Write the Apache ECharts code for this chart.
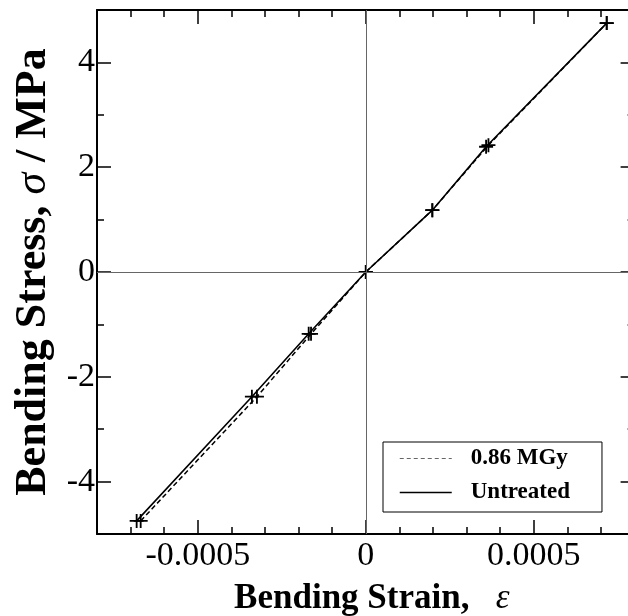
<!DOCTYPE html>
<html>
<head>
<meta charset="utf-8">
<script src="https://cdn.jsdelivr.net/npm/echarts@6/dist/echarts.min.js"></script>
<style>
  html, body { margin: 0; padding: 0; background: #fff; }
  #chart { width: 628px; height: 616px; }
</style>
</head>
<body>
<div id="chart"></div>
<script>
// Bending stress vs. bending strain, untreated and irradiated specimens
const strainUntreated = [-0.000682, -0.000339, -0.000170, 0, 0.000198, 0.000358, 0.000717];
const stressUntreated = [-4.75, -2.38, -1.18, 0, 1.18, 2.39, 4.75];
const strainIrradiated = [-0.000670, -0.000324, -0.000163, 0, 0.000198, 0.000365, 0.000717];
const stressIrradiated = [-4.75, -2.38, -1.18, 0, 1.18, 2.42, 4.75];
const strainTicks = [-0.0005, 0, 0.0005];
const stressTicks = [-4, -2, 0, 2, 4];
const seriesNames = ['0.86 MGy', 'Untreated'];

const serif = '"Liberation Serif", "Times New Roman", serif';
const plusSymbol = 'path://M-1,-0.13H1V0.13H-1Z M-0.13,-1H0.13V1H-0.13Z';

function pairs(xs, ys) { return xs.map((x, i) => [x, ys[i]]); }

function xAxisDef(position, major) {
  return {
    type: 'value', position: position,
    min: -0.0008, max: 0.0008, interval: 0.0001,
    axisLine: { show: !major, onZero: false, lineStyle: { color: '#000', width: 2 } },
    axisTick: major
      ? { show: true, inside: true, length: 14, customValues: strainTicks, lineStyle: { color: '#000', width: 1.5 } }
      : { show: true, inside: true, length: 7, lineStyle: { color: '#000', width: 1.5 } },
    axisLabel: (major && position === 'bottom')
      ? { show: true, customValues: strainTicks, margin: 5, color: '#000', fontFamily: serif, fontSize: 34,
          formatter: v => String(v) }
      : { show: false },
    splitLine: { show: false }
  };
}

function yAxisDef(position, major) {
  return {
    type: 'value', position: position,
    min: -5, max: 5, interval: 1,
    axisLine: { show: !major, onZero: false, lineStyle: { color: '#000', width: 2 } },
    axisTick: major
      ? { show: true, inside: true, length: 14, customValues: stressTicks, lineStyle: { color: '#000', width: 1.5 } }
      : { show: true, inside: true, length: 7, lineStyle: { color: '#000', width: 1.5 } },
    axisLabel: (major && position === 'left')
      ? { show: true, customValues: stressTicks, margin: 2, color: '#000', fontFamily: serif, fontSize: 34,
          formatter: v => String(v) }
      : { show: false },
    splitLine: { show: false }
  };
}

const xAxes = [xAxisDef('bottom', false), xAxisDef('bottom', true), xAxisDef('top', false), xAxisDef('top', true)];
const yAxes = [yAxisDef('left', false), yAxisDef('left', true), yAxisDef('right', false), yAxisDef('right', true)];

xAxes[1].name = '{t|Bending Strain,}   {e|ε}';
xAxes[1].nameLocation = 'middle';
xAxes[1].nameGap = 47;
xAxes[1].nameTextStyle = {
  fontSize: 35, fontFamily: serif, color: '#000', padding: [0, 0, 0, 12],
  rich: {
    t: { fontFamily: serif, fontWeight: 'bold', fontSize: 35, color: '#000' },
    e: { fontFamily: serif, fontStyle: 'italic', fontSize: 35, color: '#000' }
  }
};

yAxes[1].name = '{t|Bending Stress,} {e|σ} {t|/ MPa}';
yAxes[1].nameLocation = 'middle';
yAxes[1].nameGap = 33;
yAxes[1].nameRotate = 90;
yAxes[1].nameTextStyle = {
  fontSize: 44, fontFamily: serif, color: '#000',
  rich: {
    t: { fontFamily: serif, fontWeight: 'bold', fontSize: 44, color: '#000' },
    e: { fontFamily: serif, fontStyle: 'italic', fontSize: 44, color: '#000' }
  }
};

const option = {
  animation: false,
  backgroundColor: '#fff',
  grid: { left: 97, top: 10, width: 537.6, height: 524, containLabel: false, outerBoundsMode: 'none' },
  xAxis: xAxes,
  yAxis: yAxes,
  legend: {
    left: 383, top: 442, orient: 'vertical',
    padding: [5, 32, 8, 16],
    itemGap: 11, itemWidth: 52, itemHeight: 14,
    borderColor: '#000', borderWidth: 1, backgroundColor: '#fff',
    itemStyle: { color: 'rgba(0,0,0,0)', borderWidth: 0 },
    textStyle: { fontFamily: serif, fontWeight: 'bold', fontSize: 23, lineHeight: 22, color: '#000',
                 padding: [0, 0, 0, 14] },
    data: [
      { name: seriesNames[0], lineStyle: { color: '#666', width: 1, type: [4, 3] } },
      { name: seriesNames[1], lineStyle: { color: '#000', width: 1.5, type: 'solid' } }
    ]
  },
  series: [
    {
      name: seriesNames[0], type: 'line', xAxisIndex: 0, yAxisIndex: 0,
      data: pairs(strainIrradiated, stressIrradiated),
      symbol: plusSymbol, symbolSize: 14,
      itemStyle: { color: '#000' },
      lineStyle: { color: '#000', width: 1.5, type: [5, 3] },
      z: 3
    },
    {
      name: seriesNames[1], type: 'line', xAxisIndex: 0, yAxisIndex: 0,
      data: pairs(strainUntreated, stressUntreated),
      symbol: plusSymbol, symbolSize: 14,
      itemStyle: { color: '#000' },
      lineStyle: { color: '#000', width: 1.6, type: 'solid' },
      markLine: {
        silent: true, symbol: 'none', label: { show: false },
        lineStyle: { color: '#666', width: 1, type: 'solid' },
        data: [{ xAxis: 0 }, { yAxis: 0 }]
      },
      z: 3
    }
  ]
};

const chart = echarts.init(document.getElementById('chart'), null, { renderer: 'canvas' });
chart.setOption(option);
</script>
</body>
</html>
